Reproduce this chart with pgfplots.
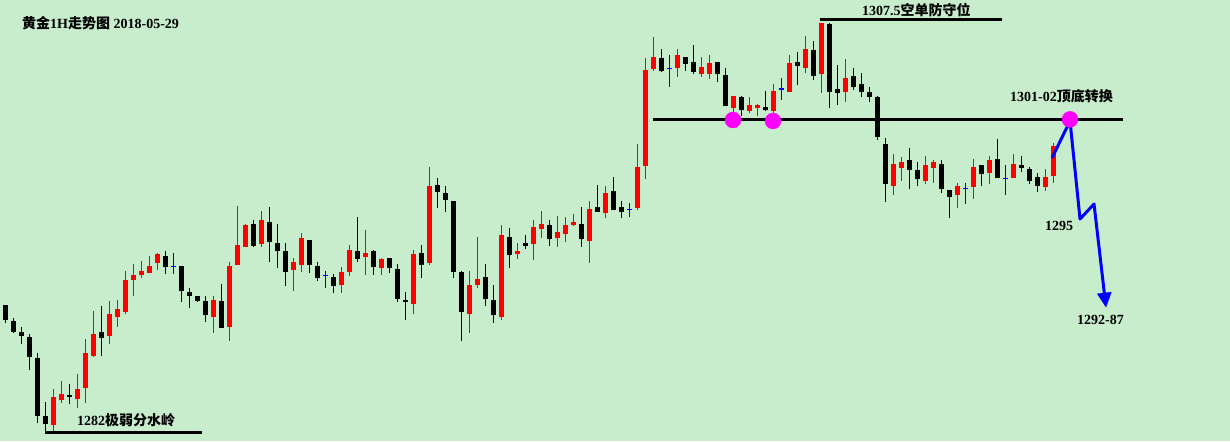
\documentclass[border=0pt]{standalone}
\usepackage{pgfplots}
\pgfplotsset{compat=1.18}
\usepackage{pgfplotstable}
\usepackage{fontspec}
\setmainfont{Liberation Serif}
\newfontfamily\cjk{Noto Sans CJK SC}
\usetikzlibrary{arrows.meta}
\definecolor{bgcol}{RGB}{199,237,204}
\definecolor{upred}{RGB}{255,0,0}
\definecolor{dj}{RGB}{0,0,255}
\definecolor{mag}{RGB}{255,0,255}
\tikzset{lbl/.style={font=\fontsize{14bp}{16bp}\selectfont\bfseries, inner sep=0pt, anchor=west}}

\pgfplotstableread{
i O H L C
6 1282.19 1284.44 1281.81 1283.96
7 1283.75 1284.94 1283.54 1284.13
9 1283.79 1285.38 1283.27 1284.44
10 1284.52 1287.54 1283.58 1286.67
11 1286.50 1289.33 1286.46 1287.88
13 1287.77 1289.94 1287.25 1289.13
14 1288.96 1290.00 1288.33 1289.44
15 1289.27 1291.81 1289.11 1291.25
16 1291.27 1292.25 1290.27 1291.58
17 1291.58 1292.44 1291.39 1291.81
18 1291.71 1292.75 1291.71 1292.13
19 1292.33 1292.92 1291.88 1292.88
26 1288.96 1290.25 1287.96 1290.00
28 1288.33 1292.38 1287.46 1292.13
29 1292.19 1295.88 1292.19 1293.44
30 1293.33 1294.75 1293.33 1294.69
32 1293.52 1295.56 1293.33 1295.00
36 1291.89 1292.63 1290.58 1292.38
37 1292.21 1294.19 1291.77 1293.88
42 1290.96 1292.06 1290.46 1291.75
43 1291.77 1293.44 1291.52 1293.13
45 1292.71 1294.38 1291.58 1292.94
47 1292.02 1292.63 1291.58 1292.56
51 1289.77 1293.13 1289.14 1292.88
53 1292.33 1298.31 1292.21 1297.13
58 1289.14 1291.81 1287.96 1290.94
59 1290.96 1293.94 1290.77 1291.31
62 1288.96 1294.69 1288.77 1294.06
64 1292.89 1293.56 1292.58 1293.06
66 1293.52 1295.00 1292.52 1294.56
67 1294.46 1295.56 1293.89 1294.75
69 1293.89 1295.25 1293.33 1294.25
70 1294.14 1295.19 1293.64 1294.69
71 1294.71 1295.38 1294.64 1294.88
73 1293.71 1296.19 1292.33 1295.69
75 1295.46 1297.13 1295.14 1296.69
79 1295.77 1299.75 1295.64 1298.31
80 1298.39 1305.13 1297.58 1304.38
81 1304.46 1306.44 1304.33 1305.19
84 1304.52 1305.69 1303.96 1305.31
87 1304.14 1305.19 1303.96 1304.56
88 1304.14 1305.31 1303.83 1304.81
91 1302.02 1302.75 1301.52 1302.75
93 1301.83 1302.69 1301.71 1302.19
94 1302.02 1302.25 1301.52 1302.19
96 1301.83 1303.50 1301.64 1303.06
98 1303.02 1305.31 1303.02 1304.81
100 1304.52 1306.50 1304.16 1305.69
102 1304.14 1307.33 1302.96 1307.33
105 1303.02 1305.06 1302.39 1303.88
111 1297.14 1299.13 1296.58 1298.50
112 1298.27 1298.96 1297.46 1298.63
115 1297.44 1299.00 1297.27 1298.44
116 1298.27 1298.75 1297.33 1298.63
119 1296.58 1297.33 1295.77 1297.14
121 1297.08 1298.81 1296.33 1298.31
123 1297.96 1299.00 1297.27 1298.75
126 1297.64 1299.13 1297.64 1298.50
130 1297.08 1298.19 1296.83 1297.69
131 1297.77 1299.83 1297.33 1299.64
}\uptable

\pgfplotstableread{
i O H L C
0 1289.69 1289.69 1288.58 1288.75
1 1288.69 1288.86 1287.96 1288.02
2 1288.00 1288.29 1287.25 1287.77
3 1287.69 1287.86 1285.63 1286.46
4 1286.38 1286.67 1282.29 1282.77
5 1282.75 1283.63 1281.63 1282.27
8 1284.08 1284.75 1283.50 1283.92
12 1288.00 1289.63 1286.50 1287.64
20 1292.75 1293.06 1291.61 1292.08
22 1292.13 1292.13 1289.89 1290.58
23 1290.48 1290.73 1289.48 1290.27
24 1290.25 1290.25 1289.89 1289.96
25 1289.94 1290.25 1288.64 1289.08
27 1289.94 1291.00 1288.27 1288.27
31 1294.75 1295.00 1293.33 1293.39
33 1294.88 1295.81 1292.39 1293.64
34 1293.56 1294.75 1292.02 1293.08
35 1293.06 1293.56 1290.89 1291.77
38 1293.75 1293.75 1291.71 1292.21
39 1292.13 1292.38 1291.21 1291.39
41 1291.44 1291.63 1290.46 1290.89
44 1293.06 1295.19 1292.39 1292.58
46 1293.06 1293.13 1291.58 1292.08
48 1292.63 1292.63 1291.71 1292.02
49 1291.94 1292.25 1289.89 1290.08
50 1290.00 1290.50 1288.77 1289.89
52 1292.94 1293.44 1291.39 1292.21
54 1297.19 1297.63 1295.77 1296.77
55 1296.69 1297.13 1295.52 1296.27
56 1296.19 1296.19 1291.39 1291.77
57 1291.75 1291.81 1287.46 1289.27
60 1291.44 1292.25 1289.64 1290.08
61 1290.00 1290.94 1288.58 1289.08
63 1293.94 1294.50 1292.02 1292.83
65 1293.56 1294.06 1293.21 1293.39
68 1294.69 1295.00 1293.39 1293.83
72 1294.75 1295.81 1293.33 1293.83
74 1295.81 1297.19 1295.52 1295.52
76 1296.81 1297.69 1295.64 1295.64
77 1295.81 1296.19 1295.14 1295.52
82 1305.13 1305.69 1304.27 1304.33
85 1305.19 1305.19 1304.33 1304.77
86 1304.88 1305.94 1304.14 1304.27
89 1304.88 1304.88 1303.64 1304.14
90 1304.06 1304.50 1302.14 1302.14
92 1302.69 1302.75 1301.52 1301.89
95 1302.06 1303.06 1301.83 1301.89
99 1304.88 1305.50 1303.46 1304.64
101 1305.63 1306.19 1303.77 1304.02
103 1307.25 1307.33 1302.02 1303.02
104 1303.19 1304.69 1302.21 1302.96
106 1304.00 1304.50 1303.14 1303.33
107 1303.50 1304.19 1302.71 1303.02
108 1303.02 1303.33 1302.39 1302.71
109 1302.69 1302.75 1300.02 1300.19
110 1299.75 1300.13 1296.14 1297.27
113 1298.75 1299.52 1296.96 1298.14
114 1298.13 1298.63 1297.14 1297.58
117 1298.50 1298.75 1296.71 1296.96
118 1296.88 1296.89 1295.14 1296.46
122 1298.44 1298.44 1297.14 1297.89
124 1298.81 1300.06 1297.64 1297.64
127 1298.44 1299.00 1298.02 1298.27
128 1298.19 1298.31 1297.27 1297.46
129 1297.69 1297.94 1296.77 1297.14
}\dntable

\pgfplotstableread{
i O H L C
21 1292.08 1292.92 1291.61 1292.08
40 1291.54 1291.81 1290.77 1291.54
78 1295.67 1296.06 1295.21 1295.67
83 1304.48 1305.31 1303.33 1304.48
97 1303.19 1303.88 1302.52 1303.19
120 1296.98 1297.33 1296.02 1296.98
125 1297.58 1298.44 1296.58 1297.58
}\djtable

\begin{document}
\begin{tikzpicture}
\begin{axis}[
  width=1230bp, height=441bp, scale only axis,
  xmin=-0.6625, xmax=153.0875, ymin=1281.1875, ymax=1308.75,
  axis lines=none, ticks=none, clip=false,
  axis background/.style={fill=bgcol},
]
% wicks
\addplot[upred, line width=1.2bp, quiver={u=0, v={\thisrow{H}-\thisrow{L}}}] table[x=i, y=L] {\uptable};
\addplot[black, line width=1.2bp, quiver={u=0, v={\thisrow{H}-\thisrow{L}}}] table[x=i, y=L] {\dntable};
\addplot[dj, line width=1.2bp, quiver={u=0, v={\thisrow{H}-\thisrow{L}}}] table[x=i, y=L] {\djtable};
% bodies
\addplot[upred, line width=5bp, quiver={u=0, v={\thisrow{C}-\thisrow{O}}}] table[x=i, y=O] {\uptable};
\addplot[black, line width=5bp, quiver={u=0, v={\thisrow{O}-\thisrow{C}}}] table[x=i, y=C] {\dntable};
\addplot[dj, line width=1.2bp, quiver={u=0.625, v=0}] table[x expr=\thisrow{i}-0.3125, y=O] {\djtable};
% level lines
\addplot[black, line width=3bp] coordinates {(4.96,1281.75) (24.59,1281.75)};
\addplot[black, line width=3bp] coordinates {(101.84,1307.5) (124.59,1307.5)};
\addplot[black, line width=3bp] coordinates {(80.96,1301.25) (139.71,1301.25)};
% projection
\addplot[dj, line width=3bp, line join=round, -{Triangle[width=14bp,length=15bp]}] coordinates {(130.84,1298.88) (133.09,1301.19) (134.34,1295.06) (136.09,1296.0) (137.59,1289.52)};
% circles
\addplot[only marks, mark=*, mark size=8bp, mark options={fill=mag, draw=mag}] coordinates {(90.96,1301.25) (95.96,1301.19) (133.09,1301.29)};
% texts
\node[lbl] at (axis cs:2.09,1307.31) {{\cjk 黄金}1H{\cjk 走势图} 2018-05-29};
\node[lbl] at (axis cs:8.96,1282.5) {1282{\cjk 极弱分水岭}};
\node[lbl] at (axis cs:107.09,1308.13) {1307.5{\cjk 空单防守位}};
\node[lbl] at (axis cs:125.59,1302.71) {1301-02{\cjk 顶底转换}};
\node[lbl] at (axis cs:129.96,1294.64) {1295};
\node[lbl] at (axis cs:133.96,1288.75) {1292-87};
\end{axis}
\end{tikzpicture}
\end{document}
